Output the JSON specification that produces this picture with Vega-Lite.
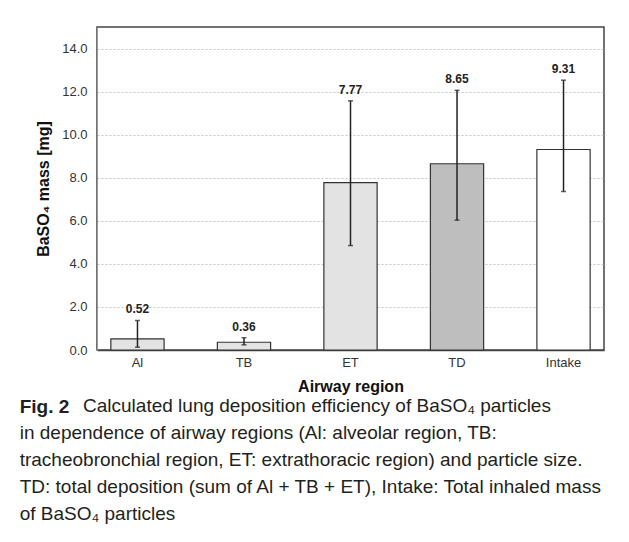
{
  "$schema": "https://vega.github.io/schema/vega-lite/v6.json",
  "width": 507,
  "height": 323,
  "padding": {"left": 19, "top": 27, "right": 5, "bottom": 5},
  "background": "white",
  "data": {"values": [
    {"region": "Al", "mass": 0.52, "lo": 0.13, "hi": 1.37},
    {"region": "TB", "mass": 0.36, "lo": 0.24, "hi": 0.57},
    {"region": "ET", "mass": 7.77, "lo": 4.85, "hi": 11.57},
    {"region": "TD", "mass": 8.65, "lo": 6.03, "hi": 12.06},
    {"region": "Intake", "mass": 9.31, "lo": 7.36, "hi": 12.53}
  ]},
  "title": {
    "text": "Fig. 2",
    "subtitle": [
      "\u200b\u00a0\u00a0\u00a0\u00a0\u00a0\u00a0\u00a0\u00a0\u00a0\u00a0\u00a0\u00a0Calculated lung deposition efficiency of BaSO₄ particles",
      "in dependence of airway regions (Al: alveolar region, TB:",
      "tracheobronchial region, ET: extrathoracic region) and particle size.",
      "TD: total deposition (sum of Al + TB + ET), Intake: Total inhaled mass",
      "of BaSO₄ particles"
    ],
    "orient": "bottom",
    "anchor": "start",
    "frame": "bounds",
    "font": "Liberation Sans",
    "fontSize": 19,
    "fontWeight": "bold",
    "color": "#231f20",
    "subtitleFont": "Liberation Sans",
    "subtitleFontSize": 19,
    "subtitleColor": "#231f20",
    "subtitleLineHeight": 27,
    "subtitlePadding": -20,
    "offset": 4,
    "dx": -16
  },
  "config": {
    "view": {"stroke": "#444444", "strokeWidth": 1.5},
    "axis": {
      "labelFont": "Liberation Sans",
      "labelFontSize": 13,
      "labelColor": "#333333",
      "titleFont": "Liberation Sans",
      "titleFontSize": 16,
      "titleFontWeight": "bold",
      "titleColor": "#111111"
    }
  },
  "encoding": {
    "x": {
      "field": "region",
      "type": "nominal",
      "sort": null,
      "scale": {"paddingInner": 0.5, "paddingOuter": 0.13},
      "axis": {
        "title": "Airway region",
        "labelAngle": 0,
        "ticks": false,
        "labelPadding": 6,
        "titlePadding": 9,
        "domainColor": "#444444",
        "domainWidth": 1.5
      }
    }
  },
  "layer": [
    {
      "mark": {"type": "bar", "stroke": "#333333", "strokeWidth": 1.2},
      "encoding": {
        "y": {
          "field": "mass",
          "type": "quantitative",
          "scale": {"domain": [0, 15], "nice": false},
          "axis": {
            "title": "BaSO₄ mass [mg]",
            "values": [0, 2, 4, 6, 8, 10, 12, 14],
            "format": ".1f",
            "ticks": false,
            "labelPadding": 10,
            "titlePadding": 10,
            "domainColor": "#999999",
            "gridColor": "#c4c4c4",
            "gridDash": [2, 2],
            "gridWidth": 1
          }
        },
        "fill": {
          "field": "region",
          "type": "nominal",
          "scale": {
            "domain": ["Al", "TB", "ET", "TD", "Intake"],
            "range": ["#e3e3e3", "#e3e3e3", "#e3e3e3", "#bebebe", "#ffffff"]
          },
          "legend": null
        }
      }
    },
    {
      "mark": {"type": "rule", "color": "#222222", "strokeWidth": 1.5},
      "encoding": {
        "y": {"field": "lo", "type": "quantitative"},
        "y2": {"field": "hi"}
      }
    },
    {
      "mark": {"type": "tick", "color": "#222222", "size": 5, "thickness": 1.5},
      "encoding": {"y": {"field": "hi", "type": "quantitative"}}
    },
    {
      "mark": {"type": "tick", "color": "#222222", "size": 5, "thickness": 1.5},
      "encoding": {"y": {"field": "lo", "type": "quantitative"}}
    },
    {
      "mark": {"type": "text", "font": "Liberation Sans", "fontSize": 12, "fontWeight": "bold", "color": "#222222", "baseline": "middle", "dy": -11},
      "encoding": {
        "y": {"field": "hi", "type": "quantitative"},
        "text": {"field": "mass", "type": "quantitative", "format": ".2f"}
      }
    }
  ]
}
